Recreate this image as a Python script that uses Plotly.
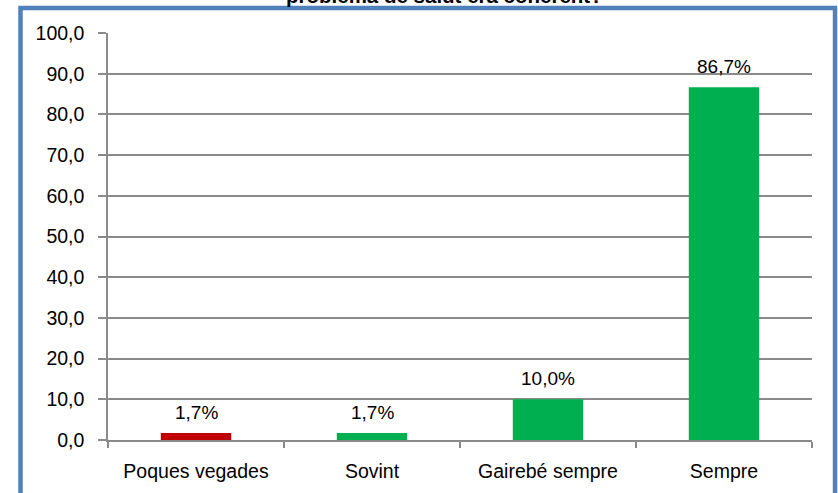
import plotly.graph_objects as go

categories = ["Poques vegades", "Sovint", "Gairebé sempre", "Sempre"]
values = [1.7, 1.7, 10.0, 86.7]
bar_colors = ["#C00000", "#00B050", "#00B050", "#00B050"]
title_text = "problema de salut era coherent?"
y_tick_values = [0, 10, 20, 30, 40, 50, 60, 70, 80, 90, 100]

FONT = "Liberation Sans, Arial, sans-serif"
GRID = "#8A8A8A"

fig = go.Figure()
fig.add_trace(go.Bar(
    x=categories, y=values, marker=dict(color=bar_colors, line=dict(width=0)),
    hoverinfo="skip",
))

annotations = []
for c, v in zip(categories, values):
    annotations.append(dict(
        x=c, y=v, xref="x", yref="y", text=f"{v:.1f}%".replace(".", ","),
        showarrow=False, yanchor="bottom", yshift=8,
        font=dict(family=FONT, size=19, color="#000000"),
    ))
annotations.append(dict(
    x=0.478, y=1.059, xref="paper", yref="paper", text="<b>" + title_text + "</b>",
    showarrow=False, xanchor="center", yanchor="bottom",
    font=dict(family=FONT, size=20.5, color="#000000"),
))

fig.update_layout(
    width=838, height=493,
    margin=dict(l=108, r=26, t=33, b=53),
    paper_bgcolor="white", plot_bgcolor="white",
    separators=",.",
    showlegend=False,
    bargap=0.6,
    font=dict(family=FONT, size=19, color="#000000"),
    annotations=annotations,
    shapes=[dict(
        type="rect", xref="paper", yref="paper",
        x0=-0.1243, x1=1.0327, y0=-0.2, y1=1.0614,
        line=dict(color="#4F81BD", width=4.5), layer="above",
    )],
)
fig.update_xaxes(
    showline=True, linecolor=GRID, linewidth=1.5,
    ticks="outside", tickson="boundaries", ticklen=6, tickcolor=GRID, tickwidth=1.5,
    showgrid=False, ticklabelstandoff=13,
    tickfont=dict(family=FONT, size=19.5),
)
fig.update_yaxes(
    range=[0, 100], tickvals=y_tick_values, tickformat=".1f",
    showline=True, linecolor=GRID, linewidth=1.5,
    ticks="outside", ticklen=8, tickcolor=GRID, tickwidth=1.5,
    showgrid=True, gridcolor=GRID, gridwidth=1.5, zeroline=False,
    ticklabelstandoff=10,
    tickfont=dict(family=FONT, size=19.5),
)

fig.write_html(
    "out.html",
    config={"displayModeBar": False},
    post_script="document.body.style.margin='0';document.body.style.overflow='hidden';",
)
